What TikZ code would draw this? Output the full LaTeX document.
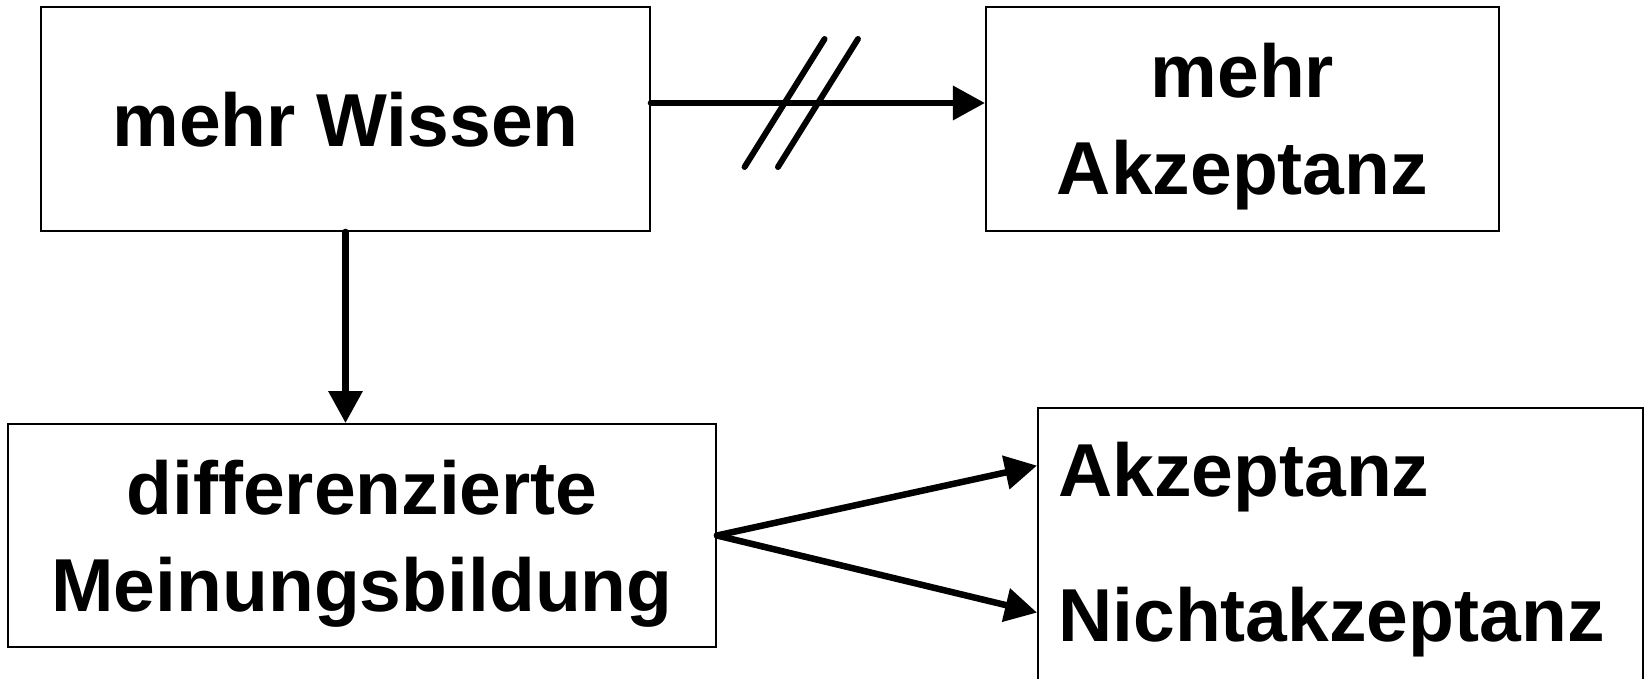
\documentclass[tikz,border=0pt]{standalone}
\usepackage{fontspec}
\setmainfont{Liberation Sans}
\usepackage{tikz}
\usetikzlibrary{positioning,arrows.meta,calc}

\begin{document}
\begin{tikzpicture}[box/.style={rectangle,draw,line width=1.1pt,inner sep=0pt,align=center,text depth=0pt,font=\fontsize{42.7}{55.2}\selectfont\bfseries},
                    lbl/.style={inner sep=0pt,anchor=base west,font=\fontsize{42.7}{55.2}\selectfont\bfseries},
                    arr/.style={line width=3.7pt,line cap=round,-{Triangle[length=0.64cm,width=0.66cm]}},
                    hash/.style={line width=3.4pt,line cap=round}] % Page size of the reference
                \useasboundingbox (0,0) rectangle (32.94,13.56);
                % Define the boxes
                \node[box,minimum width=12.18cm,minimum height=4.48cm] (wissen) at (6.91,11.18) {mehr Wissen};
                \node[box,minimum width=10.26cm,minimum height=4.48cm,right=6.68cm of wissen] (akz) {mehr\\Akzeptanz};
                \node[box,minimum width=14.16cm,minimum height=4.46cm] (meinung) at (7.24,2.85) {differenzierte\\Meinungsbildung};
                \node[box,anchor=north west,minimum width=12.1cm,minimum height=6.4cm] (result) at (20.74,5.42) {};
                \node[lbl] (ja) at (21.16,3.64) {Akzeptanz};
                \node[lbl] (nein) at (21.16,0.74) {Nichtakzeptanz};
                % Connectors
                \draw[arr] ([yshift=0.32cm]wissen.east) -- coordinate[pos=0.4] (h1) coordinate[pos=0.5] (h2) ([yshift=0.32cm]wissen.east -| akz.west);
                \draw[hash] ($(h1)+(-0.8,-1.28)$) -- ($(h1)+(0.8,1.28)$);
                \draw[hash] ($(h2)+(-0.8,-1.28)$) -- ($(h2)+(0.8,1.28)$);
                \draw[arr] (wissen.south) -- (wissen.south |- meinung.north);
                \draw[arr] (meinung.east) -- ($(result.west |- ja.west)+(0,0.22)$);
                \draw[arr] (meinung.east) -- ($(result.west |- nein.west)+(0,0.18)$);
            \end{tikzpicture}
\end{document}
